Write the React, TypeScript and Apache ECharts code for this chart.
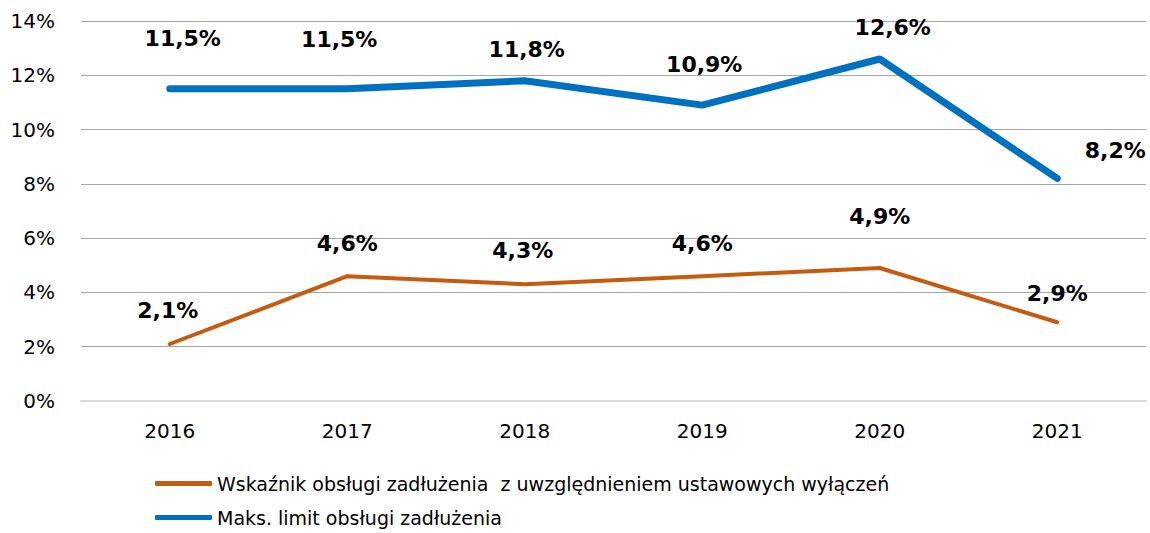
import React, { useEffect, useRef } from "react";
import * as echarts from "echarts";

const years = ["2016", "2017", "2018", "2019", "2020", "2021"];
const debtServiceRatio = [2.1, 4.6, 4.3, 4.6, 4.9, 2.9];
const maxDebtLimit = [11.5, 11.5, 11.8, 10.9, 12.6, 8.2];
const yTicks = { min: 0, max: 14, interval: 2 };
const seriesNames = [
  "Wskaźnik obsługi zadłużenia  z uwzględnieniem ustawowych wyłączeń",
  "Maks. limit obsługi zadłużenia",
];

// label placement (layout, not data)
const orangeLabelOffsets = [[-2, -21], [0, -20], [-2, -21], [0, -20], [0, -39], [0, -16]];
const blueLabelOffsets = [[13, -37], [-8, -36], [2, -18], [2, -28], [13, -19], [58, -15]];

const FONT = "DejaVu Sans";

function fmt(v: number) {
  return v.toFixed(1).replace(".", ",") + "%";
}

export default function App() {
  const ref = useRef<HTMLDivElement>(null);
  useEffect(() => {
    document.body.style.margin = "0";
    const chart = echarts.init(ref.current!, undefined, { renderer: "svg" });
    const labelBase = {
      show: true,
      position: "top" as const,
      distance: 0,
      fontFamily: FONT,
      fontWeight: "bold" as const,
      fontSize: 22,
      lineHeight: 26,
      color: "#000",
      formatter: (p: any) => fmt(p.value),
    };
    chart.setOption({
      animation: false,
      grid: { left: 81, right: 4, top: 21, bottom: 132 },
      legend: {
        orient: "vertical",
        left: 150,
        top: 469,
        itemWidth: 57,
        itemHeight: 5,
        itemGap: 15,
        textStyle: { fontFamily: FONT, fontSize: 19, color: "#000" },
        data: [
          { name: seriesNames[0], icon: "roundRect" },
          { name: seriesNames[1], icon: "roundRect" },
        ],
      },
      xAxis: {
        type: "category",
        data: years,
        boundaryGap: true,
        axisLine: { lineStyle: { color: "#d9d9d9", width: 2 } },
        axisTick: { show: false },
        axisLabel: { fontFamily: FONT, fontSize: 20, color: "#000", margin: 20 },
      },
      yAxis: {
        type: "value",
        min: yTicks.min,
        max: yTicks.max,
        interval: yTicks.interval,
        axisLine: { show: false },
        axisTick: { show: false },
        splitLine: { lineStyle: { color: "#a6a6a6", width: 1 } },
        axisLabel: {
          fontFamily: FONT,
          fontSize: 20,
          color: "#000",
          margin: 26,
          formatter: "{value}%",
        },
      },
      series: [
        {
          name: seriesNames[0],
          type: "line",
          symbol: "circle",
          symbolSize: 0,
          showSymbol: true,
          color: "#C55A11",
          lineStyle: { width: 4, color: "#C55A11", cap: "round" },
          data: debtServiceRatio.map((v, i) => ({
            value: v,
            label: { ...labelBase, offset: orangeLabelOffsets[i] },
          })),
          label: labelBase,
        },
        {
          name: seriesNames[1],
          type: "line",
          symbol: "circle",
          symbolSize: 0,
          showSymbol: true,
          color: "#0070C0",
          lineStyle: { width: 7, color: "#0070C0", cap: "round" },
          data: maxDebtLimit.map((v, i) => ({
            value: v,
            label: { ...labelBase, offset: blueLabelOffsets[i] },
          })),
          label: labelBase,
        },
      ],
    });
    return () => chart.dispose();
  }, []);
  return <div ref={ref} style={{ width: 1150, height: 533 }} />;
}
